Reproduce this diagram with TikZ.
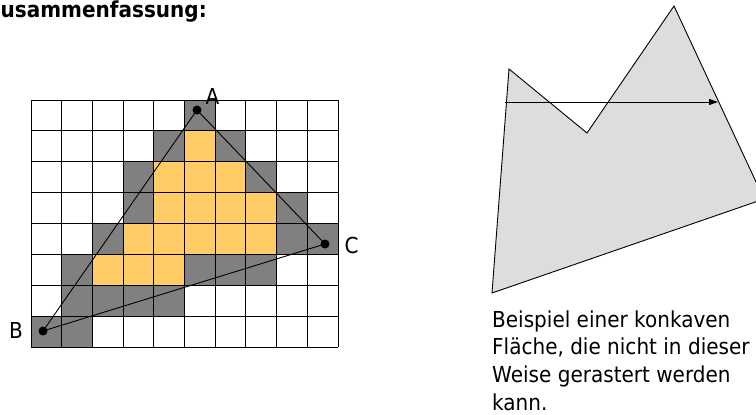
\documentclass[tikz,border=0pt]{standalone}
\usepackage{fontspec}
\setmainfont{DejaVu Sans}
\newfontfamily\tah[FakeStretch=0.91]{DejaVu Sans}
\usetikzlibrary{arrows.meta}
\definecolor{cellgray}{HTML}{808080}
\definecolor{cellorange}{HTML}{FFCC66}
\definecolor{polyfill}{HTML}{DDDDDD}
\begin{document}
\begin{tikzpicture}[x=1pt,y=-1pt,
  lbl/.style={inner sep=0pt,font=\tah\fontsize{22}{27.7}\selectfont},
  ttl/.style={inner sep=0pt,font=\tah\bfseries\fontsize{22}{26}\selectfont},
  dot/.style={circle,fill=black,inner sep=0pt,minimum size=9pt},
  gridline/.style={line width=1pt,black},
  edge/.style={line width=0.9pt,black},
  polyline/.style={line width=0.9pt,black,line join=miter}]
\useasboundingbox (0,0) rectangle (756,415);

% title
\node[ttl,anchor=base west] (title) at (0.5,17) {usammenfassung:};

% grid cells
\foreach \c/\r in {5/0,4/1,6/1,3/2,7/2,3/3,8/3,2/4,8/4,9/4,1/5,5/5,6/5,7/5,1/6,2/6,3/6,4/6,0/7,1/7}
  \fill[cellgray] ({31+\c*30.7},{100+\r*30.875}) rectangle ++(30.7,30.875);
\foreach \c/\r in {5/1,4/2,5/2,6/2,4/3,5/3,6/3,7/3,3/4,4/4,5/4,6/4,7/4,2/5,3/5,4/5}
  \fill[cellorange] ({31+\c*30.7},{100+\r*30.875}) rectangle ++(30.7,30.875);
\foreach \i in {0,...,10}
  \draw[gridline] ({31+\i*30.7},100) -- ({31+\i*30.7},347);
\foreach \j in {0,...,8}
  \draw[gridline] (31,{100+\j*30.875}) -- (338,{100+\j*30.875});

% triangle
\node[dot] (A) at (197,110) {};
\node[dot] (B) at (43,331) {};
\node[dot] (C) at (325,244) {};
\draw[edge] (A.center) -- (B.center);
\draw[edge] (A.center) -- (C.center);
\draw[edge] (B.center) -- (C.center);
\node[lbl,anchor=base] (la) at (212.5,104) {A};
\node[lbl,anchor=base] (lb) at (16,338) {B};
\node[lbl,anchor=base] (lc) at (351.5,253) {C};

% concave polygon
\coordinate (p1) at (509,69);
\coordinate (p2) at (587,133);
\coordinate (p3) at (674,6);
\coordinate (p4) at (764,199);
\coordinate (p5) at (492,293);
\filldraw[polyline,fill=polyfill] (p1) -- (p2) -- (p3) -- (p4) -- (p5) -- cycle;
\coordinate (s0) at (505,102);
\coordinate (s1) at (718,102);
\draw[edge,-{Triangle[length=9pt,width=6pt]}] (s0) -- (s1);

% caption
\node[lbl,anchor=north west,align=left] (cap) at (492,310.3)
  {Beispiel einer konkaven\\Fläche, die nicht in dieser\\Weise gerastert werden\\kann.};
\end{tikzpicture}
\end{document}
